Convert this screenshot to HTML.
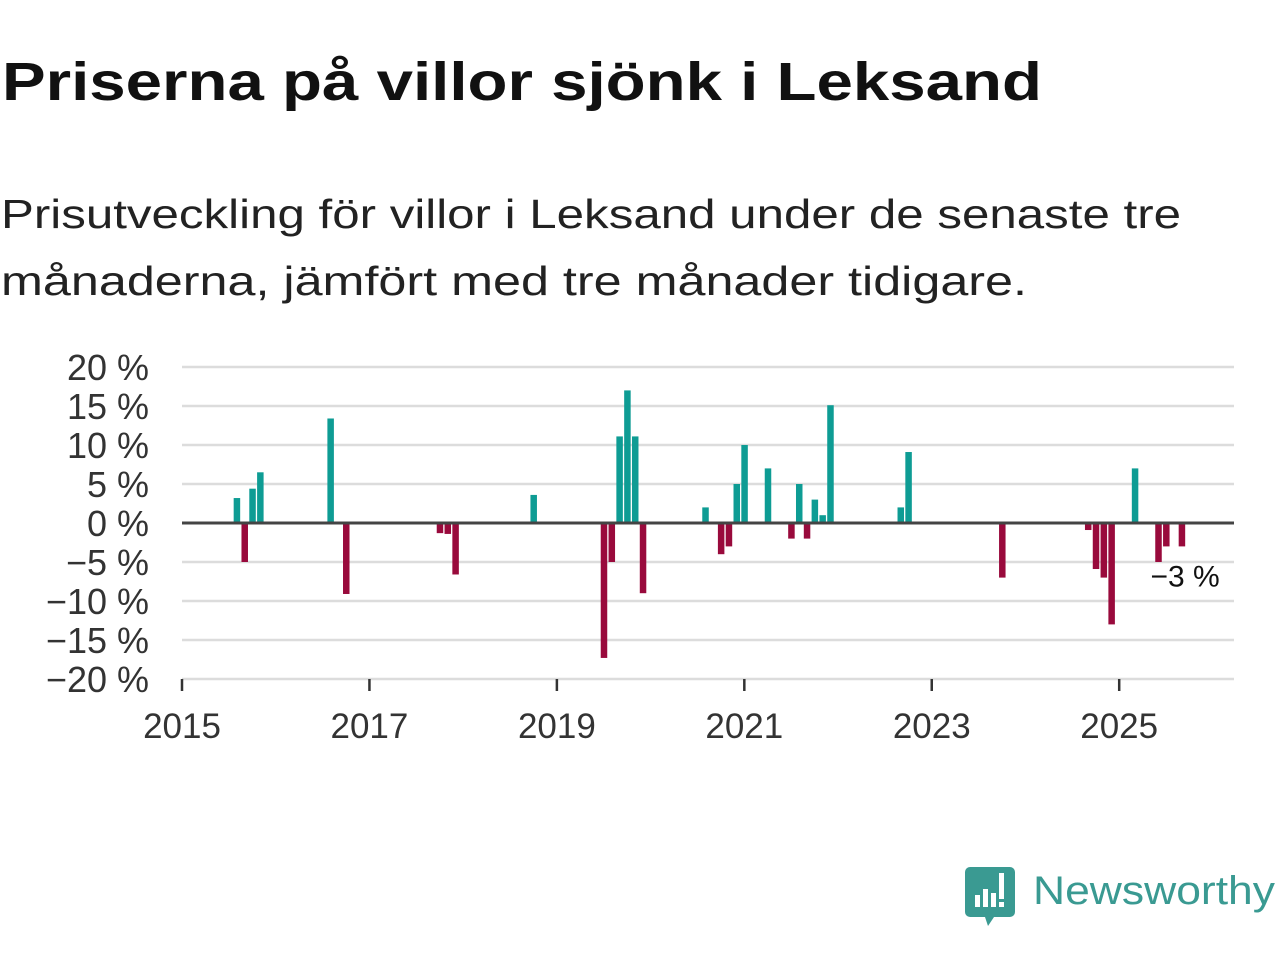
<!DOCTYPE html>
<html><head><meta charset="utf-8"><style>
html,body{margin:0;padding:0;background:#fff;width:1280px;height:960px;overflow:hidden}
svg{display:block;font-family:"Liberation Sans",sans-serif}
</style></head><body>
<svg id="chart" width="1280" height="960" viewBox="0 0 1280 960">
<text x="2" y="100" font-size="54" font-weight="bold" fill="#111" textLength="1040" lengthAdjust="spacingAndGlyphs">Priserna på villor sjönk i Leksand</text>
<text x="1" y="228" font-size="41" fill="#222" textLength="1180" lengthAdjust="spacingAndGlyphs">Prisutveckling för villor i Leksand under de senaste tre</text>
<text x="1" y="295" font-size="41" fill="#222" textLength="1026" lengthAdjust="spacingAndGlyphs">månaderna, jämfört med tre månader tidigare.</text>
<g id="grid"></g>
<g id="bars"></g>
<g id="axes"></g>
<g>
<path d="M970 867 h40 a5 5 0 0 1 5 5 v40 a5 5 0 0 1 -5 5 h-16 l-6 9 l-3 -9 h-15 a5 5 0 0 1 -5 -5 v-40 a5 5 0 0 1 5 -5z" fill="#3a9a92"/>
<rect x="975" y="895" width="5" height="12" fill="#fff"/>
<rect x="983" y="889" width="5" height="18" fill="#fff"/>
<rect x="991" y="893" width="5" height="14" fill="#fff"/>
<rect x="999" y="873" width="5" height="26" fill="#fff"/>
<rect x="999" y="902" width="5" height="5" fill="#fff"/>
<text x="1033" y="904" font-size="40" fill="#3a9a92" textLength="242" lengthAdjust="spacingAndGlyphs">Newsworthy</text>
</g>
</svg>
<script>
const months = ["2015-08","2015-09","2015-10","2015-11","2016-08","2016-10","2017-10","2017-11","2017-12","2018-10","2019-07","2019-08","2019-09","2019-10","2019-11","2019-12","2020-08","2020-10","2020-11","2020-12","2021-01","2021-04","2021-07","2021-08","2021-09","2021-10","2021-11","2021-12","2022-09","2022-10","2023-10","2024-09","2024-10","2024-11","2024-12","2025-03","2025-06","2025-07","2025-09"];
const values = [3.2,-5.0,4.4,6.5,13.4,-9.1,-1.3,-1.4,-6.6,3.6,-17.3,-5.0,11.1,17.0,11.1,-9.0,2.0,-4.0,-3.0,5.0,10.0,7.0,-2.0,5.0,-2.0,3.0,1.0,15.1,2.0,9.1,-7.0,-0.9,-5.9,-7.0,-13.0,7.0,-5.0,-3.0,-3.0];
const yTicks = [20,15,10,5,0,-5,-10,-15,-20];
const xTicks = [2015,2017,2019,2021,2023,2025];
const lastLabel = "−3 %";

const NS="http://www.w3.org/2000/svg";
const X0=182, PXM=7.81, Y0=523, PXV=7.8, XR=1234;
function xMonth(m){const [y,mo]=m.split("-").map(Number);return X0+((y-2015)*12+(mo-1))*PXM;}
function xYear(y){return X0+(y-2015)*12*PXM;}
function yv(v){return Y0-v*PXV;}
function mk(tag,attrs,parent){const e=document.createElementNS(NS,tag);for(const k in attrs)e.setAttribute(k,attrs[k]);parent.appendChild(e);return e;}
const grid=document.getElementById('grid'),bars=document.getElementById('bars'),axes=document.getElementById('axes');
yTicks.forEach(t=>{
  if(t!==0){const l=mk('line',{x1:X0,x2:XR,y1:yv(t),y2:yv(t),stroke:'#dcdcdc','stroke-width':2.5},grid);
  
  }
  const tx=mk('text',{x:149,y:yv(t)+13,'font-size':36,'text-anchor':'end',fill:'#333'},axes);
  tx.textContent=(t<0?'−'+(-t):t)+' %';
  
  
});
months.forEach((m,i)=>{
  const v=values[i],x=xMonth(m);
  const r=mk('rect',{x:x-3,y:v>=0?yv(v):Y0,width:6.5,height:Math.abs(v)*PXV,fill:v>=0?'#0e9c94':'#990a3c'},bars);
  
  
});
const base=mk('line',{x1:X0,x2:XR,y1:Y0,y2:Y0,stroke:'#444','stroke-width':3},axes);


xTicks.forEach(y=>{
  const x=xYear(y);
  const tk=mk('line',{x1:x,x2:x,y1:679,y2:691,stroke:'#333','stroke-width':2.5},axes);
  
  
  const tx=mk('text',{x:x,y:738,'font-size':35,'text-anchor':'middle',fill:'#333'},axes);
  tx.textContent=y;
  
  
});
const li=months.length-1;
const lab=mk('text',{x:xMonth(months[li])+38,y:yv(values[li])+40,'font-size':30,'text-anchor':'end',fill:'#111',stroke:'#fff','stroke-width':5,'paint-order':'stroke'},axes);
lab.textContent=lastLabel;


</script>
</body></html>
